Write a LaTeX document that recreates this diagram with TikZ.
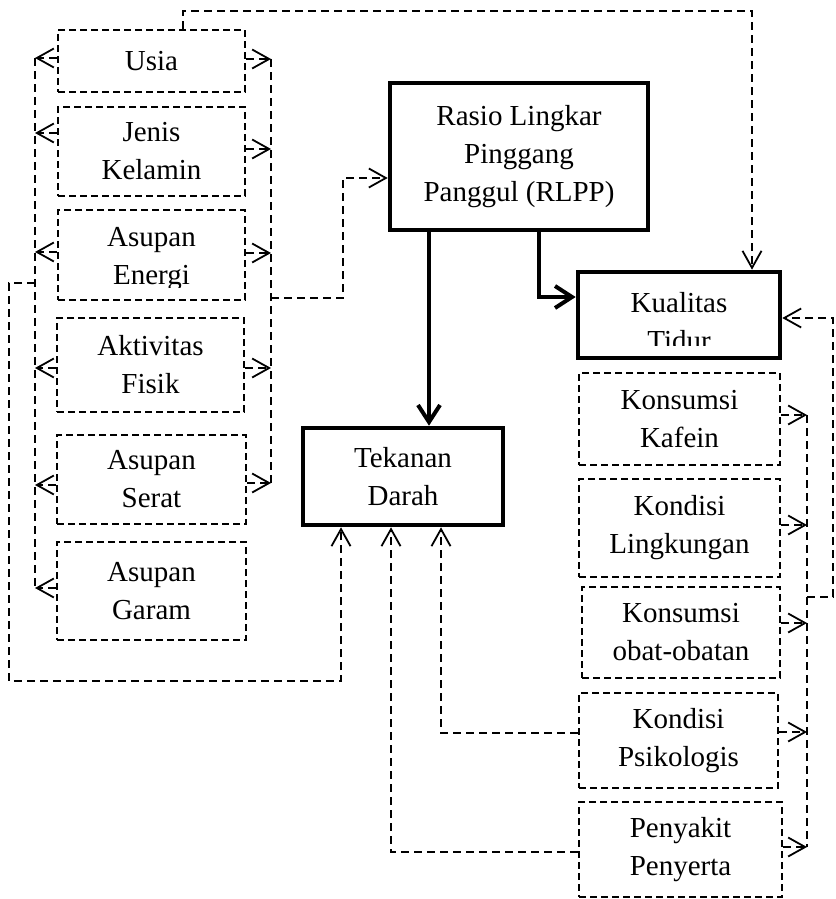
\documentclass[tikz,border=0pt]{standalone}
\usepackage{fontspec}
\setmainfont{Liberation Serif}
\usetikzlibrary{arrows.meta}
\tikzset{
  dbox/.style={draw, line width=2.3pt, dash pattern=on 7pt off 4pt, rectangle, inner sep=0pt, align=center, font=\fontsize{29}{38}\selectfont},
  tbox/.style={draw, line width=4.6pt, rectangle, inner sep=0pt, align=center, font=\fontsize{29}{38}\selectfont},
  txt/.style={inner sep=0pt, align=center, font=\fontsize{29}{38}\selectfont},
  dline/.style={line width=1.7pt, dash pattern=on 8pt off 5pt},
  darr/.style={dline, -{Straight Barb[length=17pt,width=19pt,line width=1.8pt]}},
  tarr/.style={line width=4pt, -{Straight Barb[length=17pt,width=22pt,line width=4pt]}}
}
\begin{document}
\begin{tikzpicture}[x=1pt,y=-1pt]
\useasboundingbox (0,0) rectangle (835,899);
% left group
\node[dbox, minimum width=187pt, minimum height=62pt] (usia) at (151.5,61) {Usia};
\node[dbox, minimum width=187pt, minimum height=89pt] (jenis) at (151.5,151.5) {Jenis\\Kelamin};
\node[dbox, minimum width=187pt, minimum height=90pt] (energi) at (151.5,255) {};
\begin{scope}
  \clip (50,200) rectangle (250,287);
  \node[txt] (energitxt) at (151.5,259) {Asupan\\Energi};
\end{scope}
\node[dbox, minimum width=187pt, minimum height=94pt] (aktiv) at (150.5,365) {Aktivitas\\Fisik};
\node[dbox, minimum width=189pt, minimum height=89pt] (serat) at (151.5,479.5) {Asupan\\Serat};
\node[dbox, minimum width=189pt, minimum height=98pt] (garam) at (151.5,591) {Asupan\\Garam};
% central
\node[tbox, minimum width=258pt, minimum height=147pt] (rlpp) at (519,156.5) {Rasio Lingkar\\Pinggang\\Panggul (RLPP)};
\node[tbox, minimum width=200pt, minimum height=97pt] (td) at (403,476.5) {Tekanan\\Darah};
\node[tbox, minimum width=202pt, minimum height=86pt] (kt) at (679,315) {};
\begin{scope}
  \clip (580,274) rectangle (778,345);
  \node[txt] (kttxt) at (679,321.5) {Kualitas\\Tidur};
\end{scope}
% right group
\node[dbox, minimum width=201pt, minimum height=92pt] (kafein) at (679.5,419) {Konsumsi\\Kafein};
\node[dbox, minimum width=201pt, minimum height=98pt] (lingk) at (679.5,528) {Kondisi\\Lingkungan};
\node[dbox, minimum width=198pt, minimum height=91pt] (obat) at (681,632.5) {Konsumsi\\obat-obatan};
\node[dbox, minimum width=199pt, minimum height=95pt] (psiko) at (678.5,740.5) {Kondisi\\Psikologis};
\node[dbox, minimum width=203pt, minimum height=95pt] (penyakit) at (680.5,849.5) {Penyakit\\Penyerta};
% left buses coordinates
\coordinate (lb1) at (35,58);
\coordinate (lb2) at (35,133);
\coordinate (lb3) at (35,252);
\coordinate (lb4) at (35,368);
\coordinate (lb5) at (35,485);
\coordinate (lb6) at (35,588);
\coordinate (rb1) at (271,59);
\coordinate (rb2) at (271,149);
\coordinate (rb3) at (271,253);
\coordinate (rb4) at (271,368);
\coordinate (rb5) at (271,483);
\draw[dline] (lb1) -- (lb6);
\draw[dline] (rb1) -- (rb5);
\draw[darr] (usia.west |- lb1) -- (lb1);
\draw[darr] (jenis.west |- lb2) -- (lb2);
\draw[darr] (energi.west |- lb3) -- (lb3);
\draw[darr] (aktiv.west |- lb4) -- (lb4);
\draw[darr] (serat.west |- lb5) -- (lb5);
\draw[darr] (garam.west |- lb6) -- (lb6);
\draw[darr] (usia.east |- rb1) -- (rb1);
\draw[darr] (jenis.east |- rb2) -- (rb2);
\draw[darr] (energi.east |- rb3) -- (rb3);
\draw[darr] (aktiv.east |- rb4) -- (rb4);
\draw[darr] (serat.east |- rb5) -- (rb5);
% right bus to RLPP
\coordinate (rj) at (271,298);
\coordinate (rk) at (343,178);
\draw[darr] (rj) -| (rk) -- (rlpp.west |- rk);
% outer loop to TD
\coordinate (oa) at (35,283);
\coordinate (ob) at (9,681);
\coordinate (oc) at (341,681);
\draw[darr] (oa) -- (9,283) -- (ob) -- (oc) -- (td.south -| oc);
% top connector Usia -> Kualitas Tidur
\coordinate (ta) at (183,11);
\coordinate (tb) at (752,11);
\draw[darr] (usia.north -| ta) -- (ta) -- (tb) -- (kt.north -| tb);
% thick arrows
\coordinate (th1) at (429,300);
\coordinate (th2) at (539,297);
\draw[tarr] (rlpp.south -| th1) -- (td.north -| th1);
\draw[tarr] (rlpp.south -| th2) -- (th2) -- (kt.west |- th2);
% right group buses
\coordinate (rr1) at (807,415);
\coordinate (rr2) at (807,525);
\coordinate (rr3) at (807,623);
\coordinate (rr4) at (807,732);
\coordinate (rr5) at (807,847);
\draw[dline] (rr1) -- (rr5);
\draw[darr] (kafein.east |- rr1) -- (rr1);
\draw[darr] (lingk.east |- rr2) -- (rr2);
\draw[darr] (obat.east |- rr3) -- (rr3);
\draw[darr] (psiko.east |- rr4) -- (rr4);
\draw[darr] (penyakit.east |- rr5) -- (rr5);
\coordinate (rj1) at (807,597);
\coordinate (rj2) at (833,597);
\coordinate (rj3) at (833,318);
\draw[darr] (rj1) -- (rj2) -- (rj3) -- (kt.east |- rj3);
% bottom connectors to TD
\coordinate (pa) at (441,733);
\coordinate (pb) at (391,852);
\draw[darr] (psiko.west |- pa) -- (pa) -- (td.south -| pa);
\draw[darr] (penyakit.west |- pb) -- (pb) -- (td.south -| pb);
\end{tikzpicture}
\end{document}
